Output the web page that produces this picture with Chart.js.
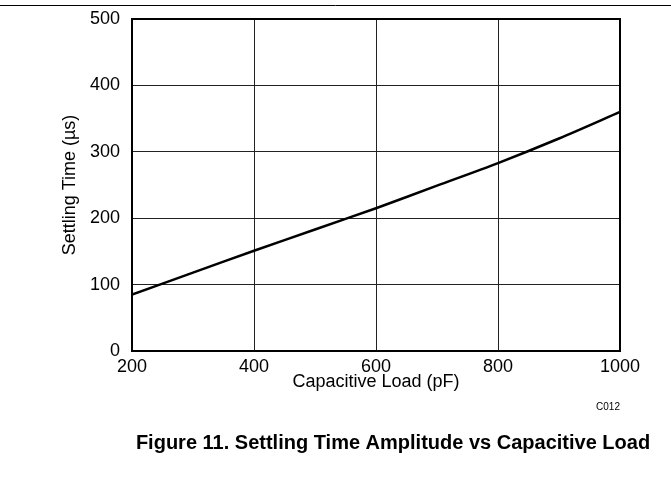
<!DOCTYPE html>
<html>
<head>
<meta charset="utf-8">
<script src="https://cdn.jsdelivr.net/npm/chart.js@4/dist/chart.umd.min.js"></script>
<style>
html,body{margin:0;padding:0;background:#fff;}
#wrap{width:671px;height:498px;position:relative;}
</style>
</head>
<body>
<div id="wrap"><canvas id="c" width="671" height="498"></canvas></div>
<script>
const loadPF = [200, 300, 400, 500, 600, 700, 800, 900, 1000];
const settlingUs = [85, 118, 151, 183, 215, 249, 283, 320, 360];
const xTicks = [200, 400, 600, 800, 1000];
const yTicks = [0, 100, 200, 300, 400, 500];
const xTitle = 'Capacitive Load (pF)';
const yTitle = 'Settling Time (µs)';
const figTitle = 'Figure 11. Settling Time Amplitude vs Capacitive Load';
const figCode = 'C012';

const FONT = "'Liberation Sans', Arial, sans-serif";

const framePlugin = {
  id: 'frame',
  afterDraw(chart) {
    const {ctx, chartArea: a} = chart;
    ctx.save();
    ctx.strokeStyle = '#000';
    ctx.lineWidth = 2;
    ctx.strokeRect(a.left, a.top, a.right - a.left, a.bottom - a.top);
    ctx.lineWidth = 1;
    ctx.beginPath();
    ctx.moveTo(0, 5.5); ctx.lineTo(671, 5.5);
    ctx.stroke();
    ctx.fillStyle = '#000';
    ctx.font = "bold 20px " + FONT;
    ctx.textAlign = 'center';
    ctx.textBaseline = 'middle';
    ctx.fillText(figTitle, 393, 443);
    ctx.font = "10px " + FONT;
    ctx.fillText(figCode, 608, 407);
    ctx.restore();
  }
};

new Chart(document.getElementById('c'), {
  type: 'line',
  data: {
    datasets: [{
      data: loadPF.map((x, i) => ({x: x, y: settlingUs[i]})),
      borderColor: '#000',
      borderWidth: 2.5,
      pointRadius: 0,
      tension: 0.3,
      fill: false
    }]
  },
  options: {
    responsive: false,
    animation: false,
    layout: {padding: {left: 59, right: 51, top: 19, bottom: 105}},
    plugins: {legend: {display: false}, tooltip: {enabled: false}},
    scales: {
      x: {
        type: 'linear', min: 200, max: 1000,
        afterBuildTicks: s => { s.ticks = xTicks.map(v => ({value: v})); },
        afterFit: s => { s.height = 42; s.paddingLeft = 0; s.paddingRight = 0; },
        grid: {color: '#222', lineWidth: 1, drawTicks: false},
        border: {display: false},
        ticks: {color: '#000', font: {family: FONT, size: 18}, padding: 5, maxRotation: 0,
                callback: v => String(v)},
        title: {display: true, text: xTitle, color: '#000', font: {family: FONT, size: 18}, padding: 0}
      },
      y: {
        type: 'linear', min: 0, max: 500,
        afterBuildTicks: s => { s.ticks = yTicks.map(v => ({value: v})); },
        afterFit: s => { s.width = 73; s.paddingTop = 0; s.paddingBottom = 0; },
        grid: {color: '#222', lineWidth: 1, drawTicks: false},
        border: {display: false},
        ticks: {color: '#000', font: {family: FONT, size: 18}, padding: 12,
                callback: v => String(v)},
        title: {display: true, text: yTitle, color: '#000', font: {family: FONT, size: 18}, padding: 0}
      }
    }
  },
  plugins: [framePlugin]
});
</script>
</body>
</html>
